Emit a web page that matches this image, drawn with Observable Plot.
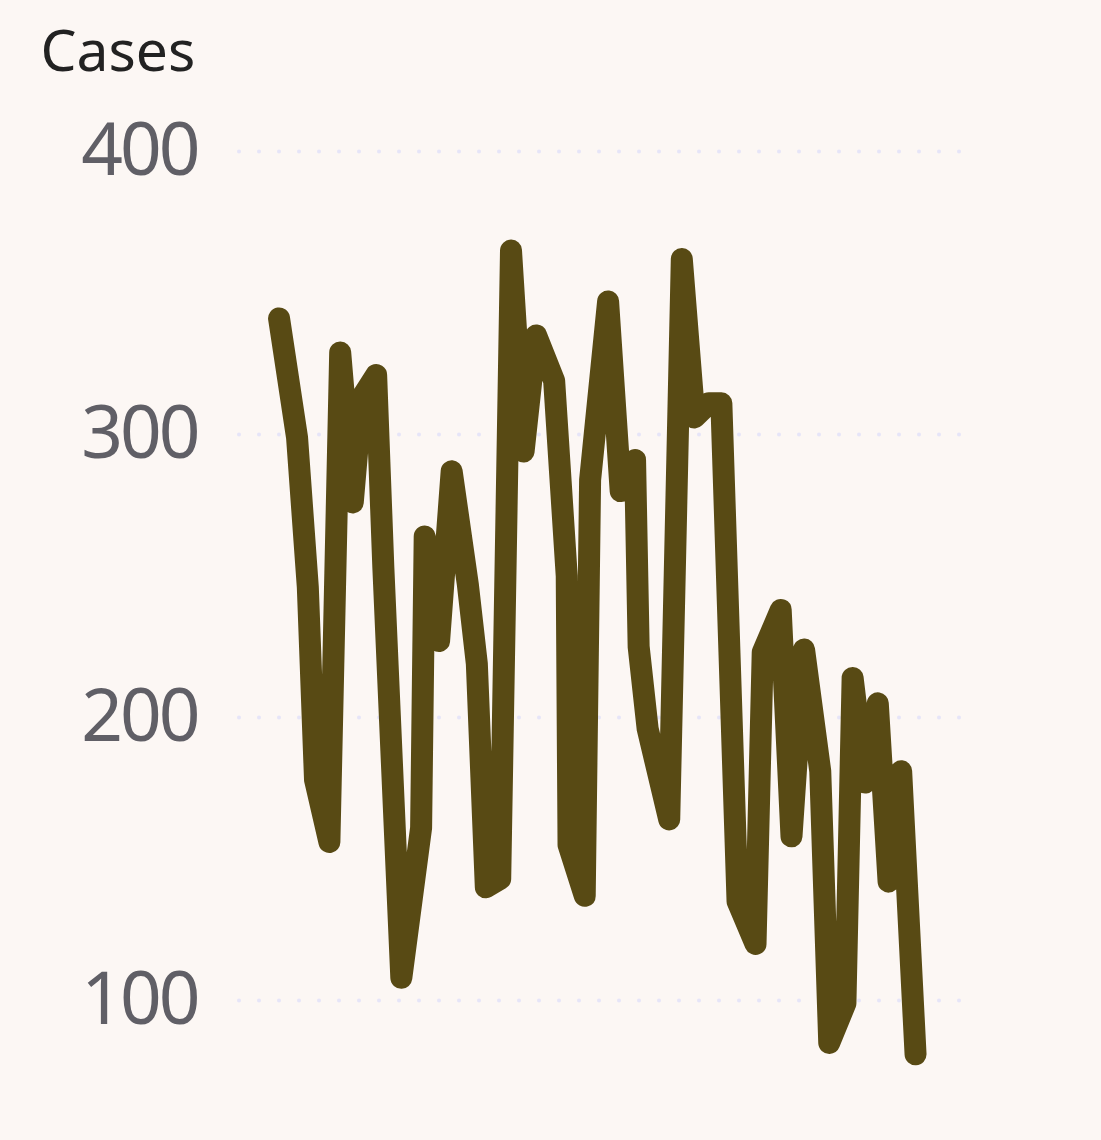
<!DOCTYPE html>
<html>
<head>
<meta charset="utf-8">
<script src="https://cdn.jsdelivr.net/npm/d3@7"></script>
<script src="https://cdn.jsdelivr.net/npm/@observablehq/plot@0.6"></script>
<style>
  html, body { margin: 0; padding: 0; background: #fcf7f4; }
  #chart svg { display: block; }
  #chart g[aria-label="y-axis tick label"] text { letter-spacing: -3px; }
</style>
</head>
<body>
<div id="chart"></div>
<script>
// Day index of each observation (x axis hidden in the original)
const days = [23, 33, 39, 43, 51, 57, 64, 69, 77, 81, 91, 102, 104, 112, 119, 128, 133, 138, 146, 152,
              159, 166, 176, 183, 184, 193, 196, 206, 213, 221, 223, 228, 240, 247, 254, 262, 269, 278, 288, 292,
              302, 308, 315, 324, 329, 338, 342, 349, 356, 362, 369, 377];
// Cases per observation
const cases = [341, 299, 246, 178, 156, 329, 276, 313, 321, 253, 108, 161, 264, 227, 287, 247, 219, 140, 143, 365,
               294, 335, 319, 250, 155, 137, 284, 347, 280, 291, 225, 196, 164, 362, 306, 311, 311, 135, 120, 223,
               238, 158, 224, 181, 85, 99, 214, 177, 205, 142, 181, 81];
const yTicks = [100, 200, 300, 400];
const yLabel = "Cases";

const data = days.map((d, i) => ({day: d, cases: cases[i]}));

const chart = Plot.plot({
  width: 1101,
  height: 1140,
  marginLeft: 239,
  marginRight: 141,
  marginTop: 151,
  marginBottom: 140,
  style: {background: "transparent", fontFamily: "'Noto Sans', sans-serif"},
  x: {domain: [1, 402], axis: null},
  y: {domain: [100, 400], ticks: yTicks, label: null},
  marks: [
    Plot.ruleY(yTicks, {stroke: "#e6e5f8", strokeWidth: 4, strokeDasharray: "0,20", strokeLinecap: "round"}),
    Plot.axisY({ticks: yTicks, tickSize: 0, tickPadding: 42, fontSize: 73, fill: "#605f66", label: null}),
    Plot.text([yLabel], {frameAnchor: "top-left", dx: -199, dy: -81, textAnchor: "start", lineAnchor: "bottom",
                          fontSize: 57, fill: "#222222", fontFamily: "'Noto Sans', sans-serif"}),
    Plot.line(data, {x: "day", y: "cases", stroke: "#584a14", strokeWidth: 22, strokeLinejoin: "round", strokeLinecap: "round"})
  ]
});
document.getElementById("chart").append(chart);
</script>
</body>
</html>
